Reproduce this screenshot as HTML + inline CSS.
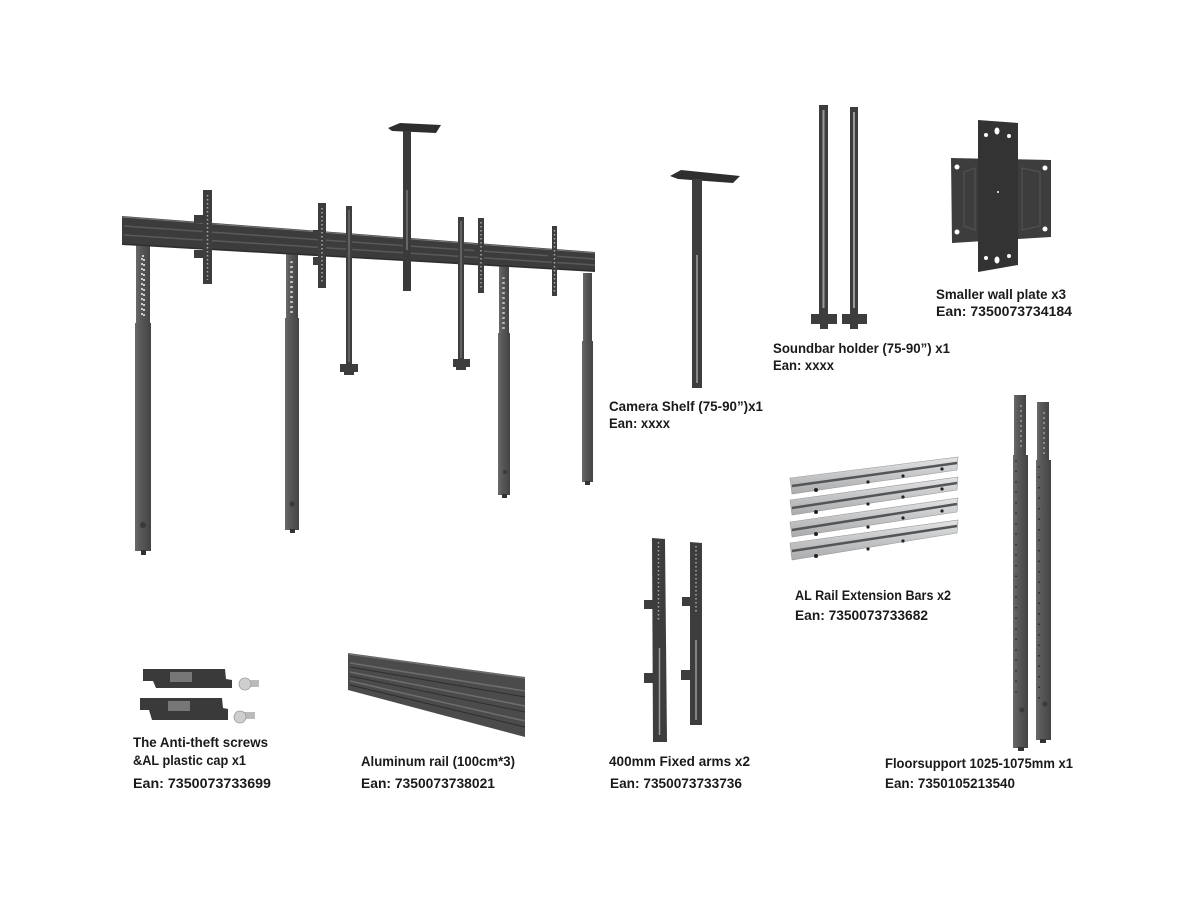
<!DOCTYPE html>
<html><head><meta charset="utf-8"><style>
html,body{margin:0;padding:0;background:#fff;}
svg{display:block;}
text{font-family:"Liberation Sans",sans-serif;font-weight:bold;font-size:13.5px;fill:#1a1a1a;}
</style></head><body>
<svg width="1200" height="900" viewBox="0 0 1200 900" xmlns="http://www.w3.org/2000/svg">
<defs>
<linearGradient id="leg" x1="0" x2="1" y1="0" y2="0">
<stop offset="0" stop-color="#6a6a6a"/><stop offset="0.3" stop-color="#5a5a5a"/><stop offset="1" stop-color="#444"/>
</linearGradient>
<linearGradient id="silver" x1="0" x2="0" y1="0" y2="1">
<stop offset="0" stop-color="#e2e4e6"/><stop offset="0.5" stop-color="#c4c6c8"/><stop offset="1" stop-color="#a9abad"/>
</linearGradient>
</defs>
<rect width="1200" height="900" fill="#fff"/>

<!-- ===== Main assembly ===== -->
<!-- legs -->
<g fill="url(#leg)">
<rect x="136" y="243" width="14" height="82"/>
<rect x="135" y="323" width="16" height="228"/>
<rect x="286" y="250" width="12" height="70"/>
<rect x="285" y="318" width="14" height="212"/>
<rect x="499" y="265" width="10" height="70"/>
<rect x="498" y="333" width="12" height="162"/>
<rect x="583" y="273" width="9" height="70"/>
<rect x="582" y="341" width="11" height="141"/>
</g>
<g fill="#333">
<rect x="141" y="550" width="5" height="5"/>
<rect x="290" y="529" width="5" height="4"/>
<rect x="502" y="494" width="5" height="4"/>
<rect x="585" y="481" width="5" height="4"/>
</g>
<g fill="#ddd">
<rect x="142" y="256" width="2" height="60" fill="none" stroke="#ccc" stroke-dasharray="2 3" stroke-width="2"/>
<rect x="291" y="262" width="1" height="52" fill="none" stroke="#ccc" stroke-dasharray="2 3" stroke-width="1.5"/>
<rect x="503" y="278" width="1" height="52" fill="none" stroke="#bbb" stroke-dasharray="2 3" stroke-width="1.5"/>
</g>
<circle cx="143" cy="525" r="3" fill="#3a3a3a"/>
<circle cx="292" cy="504" r="2.5" fill="#3a3a3a"/>
<circle cx="505" cy="472" r="2" fill="#3a3a3a"/>

<!-- rail -->
<polygon points="122,216 595,252 595,272 122,245" fill="#3c3c3c"/>
<line x1="122" y1="217" x2="595" y2="253" stroke="#777" stroke-width="1"/>
<line x1="124" y1="226" x2="595" y2="259" stroke="#5a5a5a" stroke-width="1.5"/>
<line x1="124" y1="235" x2="595" y2="265" stroke="#5a5a5a" stroke-width="1.5"/>
<line x1="122" y1="244" x2="595" y2="271" stroke="#2a2a2a" stroke-width="1"/>

<!-- camera shelf on assembly -->
<polygon points="388,128 400,123 441,125 436,133 392,131" fill="#2e2e2e"/>
<rect x="403" y="131" width="8" height="160" fill="#3a3a3a"/>
<rect x="406" y="190" width="2" height="60" fill="#666"/>

<!-- vertical TV arms -->
<g fill="#3d3d3d">
<rect x="203" y="190" width="9" height="94"/>
<rect x="194" y="215" width="10" height="8"/>
<rect x="194" y="250" width="10" height="8"/>
<rect x="318" y="203" width="8" height="85"/>
<rect x="313" y="230" width="6" height="8"/>
<rect x="313" y="257" width="6" height="8"/>
<rect x="346" y="206" width="6" height="162"/>
<rect x="340" y="364" width="18" height="8"/>
<rect x="344" y="370" width="10" height="5"/>
<rect x="458" y="217" width="6" height="146"/>
<rect x="453" y="359" width="17" height="8"/>
<rect x="456" y="365" width="10" height="5"/>
<rect x="478" y="218" width="6" height="75"/>
<rect x="474" y="245" width="5" height="8"/>
<rect x="552" y="226" width="5" height="70"/>
<rect x="548" y="250" width="5" height="8"/>
</g>
<g stroke="#aaa" stroke-width="1.5" stroke-dasharray="1.5 2.5">
<line x1="207.5" y1="195" x2="207.5" y2="280"/>
<line x1="322" y1="208" x2="322" y2="284"/>
<line x1="481" y1="222" x2="481" y2="290"/>
<line x1="554.5" y1="230" x2="554.5" y2="292"/>
</g>
<g stroke="#888" stroke-width="1">
<line x1="349" y1="210" x2="349" y2="362"/>
<line x1="461" y1="221" x2="461" y2="358"/>
</g>

<!-- ===== Camera shelf ===== -->
<polygon points="670,176 681,170 740,176 733,183 678,179" fill="#2e2e2e"/>
<rect x="692" y="179" width="10" height="209" fill="#3d3d3d"/>
<rect x="696" y="255" width="2" height="128" fill="#888"/>
<text x="609" y="411" textLength="154" lengthAdjust="spacingAndGlyphs">Camera Shelf (75-90”)x1</text>
<text x="609" y="428" textLength="61" lengthAdjust="spacingAndGlyphs">Ean: xxxx</text>

<!-- ===== Soundbar holder ===== -->
<g fill="#3d3d3d">
<rect x="819" y="105" width="9" height="215"/>
<rect x="811" y="314" width="26" height="10"/>
<rect x="820" y="322" width="8" height="7"/>
<rect x="850" y="107" width="8" height="213"/>
<rect x="842" y="314" width="25" height="10"/>
<rect x="850" y="322" width="8" height="7"/>
</g>
<rect x="822.5" y="110" width="2" height="198" fill="#9a9a9a"/>
<rect x="853" y="112" width="2" height="196" fill="#9a9a9a"/>
<text x="773" y="353" textLength="177" lengthAdjust="spacingAndGlyphs">Soundbar holder (75-90”) x1</text>
<text x="773" y="370" textLength="61" lengthAdjust="spacingAndGlyphs">Ean: xxxx</text>

<!-- ===== Wall plate ===== -->
<polygon points="951,158 1051,160 1051,237 952,243" fill="#3d3d3d"/>
<polygon points="978,120 1018,123 1018,265 978,272" fill="#333"/>
<polygon points="964,172 975,168 975,230 964,226" fill="none" stroke="#555" stroke-width="1"/>
<polygon points="1022,168 1040,172 1040,226 1022,230" fill="none" stroke="#555" stroke-width="1"/>
<g fill="#fff">
<circle cx="957" cy="167" r="2.5"/><circle cx="957" cy="232" r="2.5"/>
<circle cx="1045" cy="168" r="2.5"/><circle cx="1045" cy="229" r="2.5"/>
<circle cx="986" cy="135" r="2"/><ellipse cx="997" cy="131" rx="2.5" ry="3.5"/><circle cx="1009" cy="136" r="2"/>
<circle cx="986" cy="258" r="2"/><ellipse cx="997" cy="260" rx="2.5" ry="3.5"/><circle cx="1009" cy="256" r="2"/>
<circle cx="998" cy="192" r="1"/>
</g>
<text x="936" y="299" textLength="130" lengthAdjust="spacingAndGlyphs">Smaller wall plate x3</text>
<text x="936" y="316" textLength="136" lengthAdjust="spacingAndGlyphs">Ean:  7350073734184</text>

<!-- ===== AL Rail Extension Bars ===== -->
<g>
<polygon points="790,478 958,457 957,470 792,494" fill="url(#silver)" stroke="#999" stroke-width="0.6"/>
<line x1="792" y1="486" x2="957" y2="463" stroke="#555" stroke-width="2.5"/>
<polygon points="790,500 958,477 957,490 792,515" fill="url(#silver)" stroke="#999" stroke-width="0.6"/>
<line x1="792" y1="508" x2="957" y2="483" stroke="#555" stroke-width="2.5"/>
<polygon points="790,522 958,498 957,512 792,537" fill="url(#silver)" stroke="#999" stroke-width="0.6"/>
<line x1="792" y1="530" x2="957" y2="504" stroke="#555" stroke-width="2.5"/>
<polygon points="790,543 958,520 957,533 792,560" fill="url(#silver)" stroke="#999" stroke-width="0.6"/>
<line x1="792" y1="551" x2="957" y2="526" stroke="#555" stroke-width="2.5"/>
</g>
<g fill="#222">
<circle cx="816" cy="490" r="2"/><circle cx="868" cy="482" r="1.6"/><circle cx="903" cy="476" r="1.6"/><circle cx="942" cy="469" r="1.6"/>
<circle cx="816" cy="512" r="2"/><circle cx="868" cy="504" r="1.6"/><circle cx="903" cy="497" r="1.6"/><circle cx="942" cy="489" r="1.6"/>
<circle cx="816" cy="534" r="2"/><circle cx="868" cy="527" r="1.6"/><circle cx="903" cy="518" r="1.6"/><circle cx="942" cy="511" r="1.6"/>
<circle cx="816" cy="556" r="2"/><circle cx="868" cy="549" r="1.6"/><circle cx="903" cy="541" r="1.6"/>
</g>
<text x="795" y="600" textLength="156" lengthAdjust="spacingAndGlyphs">AL Rail Extension Bars x2</text>
<text x="795" y="620" textLength="133" lengthAdjust="spacingAndGlyphs">Ean: 7350073733682</text>

<!-- ===== Floor supports ===== -->
<rect x="1014" y="395" width="12" height="62" fill="url(#leg)"/>
<rect x="1013" y="455" width="15" height="293" fill="url(#leg)"/>
<rect x="1018" y="747" width="6" height="4" fill="#333"/>
<rect x="1037" y="402" width="12" height="60" fill="url(#leg)"/>
<rect x="1036" y="460" width="15" height="280" fill="url(#leg)"/>
<rect x="1040" y="739" width="6" height="4" fill="#333"/>
<g stroke="#2a2a2a" stroke-width="1.5" stroke-dasharray="1.5 9">
<line x1="1016" y1="460" x2="1016" y2="700"/>
<line x1="1039" y1="466" x2="1039" y2="700"/>
</g>
<g stroke="#999" stroke-width="1.5" stroke-dasharray="2 3">
<line x1="1021" y1="405" x2="1021" y2="450"/>
<line x1="1044" y1="412" x2="1044" y2="455"/>
</g>
<circle cx="1022" cy="710" r="2.5" fill="#3a3a3a"/>
<circle cx="1045" cy="704" r="2.5" fill="#3a3a3a"/>
<text x="885" y="768" textLength="188" lengthAdjust="spacingAndGlyphs">Floorsupport 1025-1075mm x1</text>
<text x="885" y="788" textLength="130" lengthAdjust="spacingAndGlyphs">Ean: 7350105213540</text>

<!-- ===== Fixed arms ===== -->
<g fill="#3d3d3d">
<polygon points="652,538 665,539 667,742 653,742"/>
<rect x="644" y="600" width="9" height="9"/>
<rect x="644" y="673" width="9" height="10"/>
<polygon points="690,542 702,543 702,725 690,725"/>
<rect x="682" y="597" width="9" height="9"/>
<rect x="681" y="670" width="9" height="10"/>
</g>
<g stroke="#aaa" stroke-width="1.5" stroke-dasharray="1.5 2.5">
<line x1="658.5" y1="542" x2="658.5" y2="620"/>
<line x1="696" y1="546" x2="696" y2="612"/>
</g>
<g stroke="#999" stroke-width="1.5">
<line x1="659.5" y1="648" x2="659.5" y2="735"/>
<line x1="696" y1="640" x2="696" y2="720"/>
</g>
<text x="609" y="766" textLength="141" lengthAdjust="spacingAndGlyphs">400mm Fixed arms x2</text>
<text x="610" y="788" textLength="132" lengthAdjust="spacingAndGlyphs">Ean: 7350073733736</text>

<!-- ===== Anti-theft caps and screws ===== -->
<g fill="#3a3a3a">
<polygon points="143,669 225,669 226,679 232,680 232,688 156,688 153,681 143,681"/>
<polygon points="140,698 222,698 223,708 228,709 228,720 152,720 149,710 140,710"/>
</g>
<g fill="#777"><rect x="170" y="672" width="22" height="10"/><rect x="168" y="701" width="22" height="10"/></g>
<g>
<rect x="247" y="680" width="12" height="7" fill="#bbb"/>
<circle cx="245" cy="684" r="6" fill="#cfcfcf" stroke="#999" stroke-width="0.8"/>
<rect x="243" y="712" width="12" height="7" fill="#bbb"/>
<circle cx="240" cy="717" r="6" fill="#cfcfcf" stroke="#999" stroke-width="0.8"/>
</g>
<text x="133" y="747" textLength="135" lengthAdjust="spacingAndGlyphs">The Anti-theft screws</text>
<text x="133" y="765" textLength="113" lengthAdjust="spacingAndGlyphs">&amp;AL plastic cap x1</text>
<text x="133" y="788" textLength="138" lengthAdjust="spacingAndGlyphs">Ean:  7350073733699</text>

<!-- ===== Aluminum rail ===== -->
<polygon points="348,653 525,677 525,737 348,690" fill="#4b4b4b"/>
<g stroke="#6e6e6e" stroke-width="1.5">
<line x1="348" y1="654" x2="525" y2="678"/>
<line x1="350" y1="663" x2="525" y2="691"/>
<line x1="350" y1="672" x2="525" y2="706"/>
<line x1="350" y1="681" x2="525" y2="721"/>
</g>
<g stroke="#2e2e2e" stroke-width="1">
<line x1="350" y1="667" x2="525" y2="697"/>
<line x1="350" y1="676" x2="525" y2="712"/>
<line x1="350" y1="685" x2="525" y2="727"/>
</g>
<text x="361" y="766" textLength="154" lengthAdjust="spacingAndGlyphs">Aluminum rail (100cm*3)</text>
<text x="361" y="788" textLength="134" lengthAdjust="spacingAndGlyphs">Ean:  7350073738021</text>
</svg>
</body></html>
